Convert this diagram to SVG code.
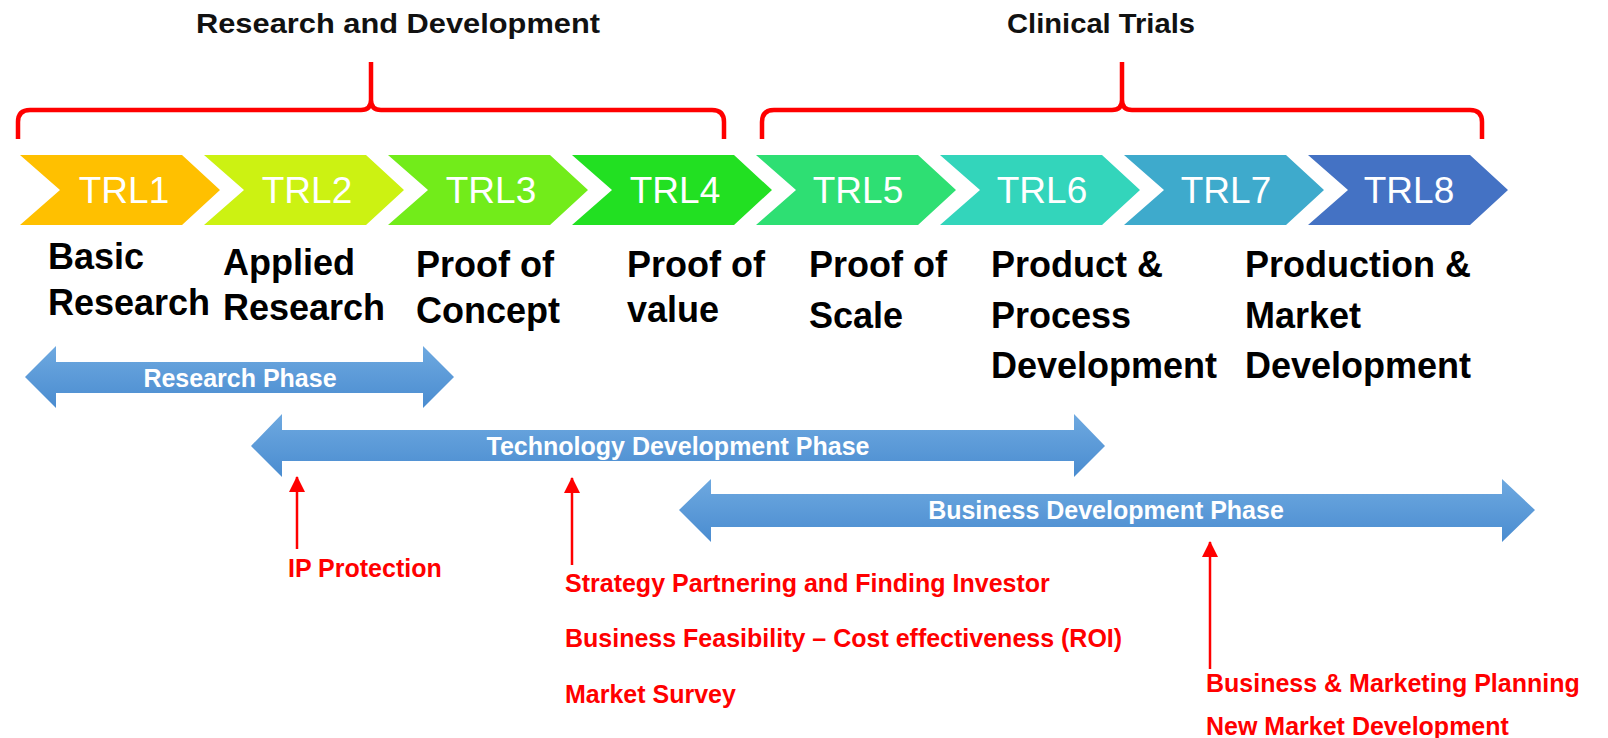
<svg xmlns="http://www.w3.org/2000/svg" width="1608" height="738" viewBox="0 0 1608 738">
<defs>
<linearGradient id="blue" x1="0" y1="0" x2="0" y2="1">
<stop offset="0" stop-color="#6EA9E0"/>
<stop offset="1" stop-color="#4A8CD0"/>
</linearGradient>
<marker id="redhead" viewBox="0 0 16 16" refX="15" refY="8" markerWidth="16" markerHeight="16" markerUnits="userSpaceOnUse" orient="auto">
<path d="M0 0 L16 8 L0 16 Z" fill="#FF0000"/>
</marker>
</defs>
<style>
.head{font-family:"Liberation Sans",Arial,sans-serif;font-weight:bold;font-size:28px;fill:#111;text-anchor:middle}
.trl{font-family:"Liberation Sans",Arial,sans-serif;font-size:37px;fill:#fff;text-anchor:middle}
.lbl{font-family:"Liberation Sans",Arial,sans-serif;font-weight:bold;font-size:36px;fill:#000}
.phase{font-family:"Liberation Sans",Arial,sans-serif;font-weight:bold;font-size:25px;fill:#fff;text-anchor:middle}
.red{font-family:"Liberation Sans",Arial,sans-serif;font-weight:bold;font-size:25px;fill:#FF0000}
.brace{fill:none;stroke:#FF0000;stroke-width:4.5}
.rline{stroke:#FF0000;stroke-width:2.5;fill:none}
.barrow{fill:url(#blue)}
</style>
<rect width="1608" height="738" fill="#fff"/>

<g id="brace-rd">
<path class="brace" d="M18 139 L18 122 Q18 110 30 110 L361 110 Q371 110 371 100 L371 62 M371 100 Q371 110 381 110 L712 110 Q724 110 724 122 L724 139"/>
<text class="head" x="398" y="33" textLength="404" lengthAdjust="spacingAndGlyphs">Research and Development</text>
</g>
<g id="brace-ct">
<path class="brace" d="M762 139 L762 122 Q762 110 774 110 L1112 110 Q1122 110 1122 100 L1122 62 M1122 100 Q1122 110 1132 110 L1470 110 Q1482 110 1482 122 L1482 139"/>
<text class="head" x="1101" y="33" textLength="188" lengthAdjust="spacingAndGlyphs">Clinical Trials</text>
</g>

<g id="trl1"><path d="M20 155 L182 155 L220 190 L182 225 L20 225 L60 190 Z" fill="#FFC000"/><text class="trl" x="124" y="203">TRL1</text></g>
<g id="trl2"><path d="M204 155 L366 155 L404 190 L366 225 L204 225 L244 190 Z" fill="#CCF212"/><text class="trl" x="307" y="203">TRL2</text></g>
<g id="trl3"><path d="M388 155 L550 155 L588 190 L550 225 L388 225 L428 190 Z" fill="#72EC1A"/><text class="trl" x="491" y="203">TRL3</text></g>
<g id="trl4"><path d="M572 155 L734 155 L772 190 L734 225 L572 225 L612 190 Z" fill="#22E022"/><text class="trl" x="675" y="203">TRL4</text></g>
<g id="trl5"><path d="M756 155 L918 155 L956 190 L918 225 L756 225 L796 190 Z" fill="#2EDF73"/><text class="trl" x="858" y="203">TRL5</text></g>
<g id="trl6"><path d="M940 155 L1102 155 L1140 190 L1102 225 L940 225 L980 190 Z" fill="#33D5BB"/><text class="trl" x="1042" y="203">TRL6</text></g>
<g id="trl7"><path d="M1124 155 L1286 155 L1324 190 L1286 225 L1124 225 L1164 190 Z" fill="#3EAACC"/><text class="trl" x="1226" y="203">TRL7</text></g>
<g id="trl8"><path d="M1308 155 L1470 155 L1508 190 L1470 225 L1308 225 L1348 190 Z" fill="#4472C4"/><text class="trl" x="1409" y="203">TRL8</text></g>

<g id="label1"><text class="lbl" x="48" y="269">Basic</text><text class="lbl" x="48" y="315">Research</text></g>
<g id="label2"><text class="lbl" x="223" y="275">Applied</text><text class="lbl" x="223" y="320">Research</text></g>
<g id="label3"><text class="lbl" x="416" y="277">Proof of</text><text class="lbl" x="416" y="323">Concept</text></g>
<g id="label4"><text class="lbl" x="627" y="277">Proof of</text><text class="lbl" x="627" y="322">value</text></g>
<g id="label5"><text class="lbl" x="809" y="277">Proof of</text><text class="lbl" x="809" y="328">Scale</text></g>
<g id="label6"><text class="lbl" x="991" y="277">Product &amp;</text><text class="lbl" x="991" y="328">Process</text><text class="lbl" x="991" y="378">Development</text></g>
<g id="label7"><text class="lbl" x="1245" y="277">Production &amp;</text><text class="lbl" x="1245" y="328">Market</text><text class="lbl" x="1245" y="378">Development</text></g>

<g id="research-phase">
<path class="barrow" d="M25 377 L56 346 L56 362 L423 362 L423 346 L454 377 L423 408 L423 393 L56 393 L56 408 Z"/>
<text class="phase" x="240" y="387">Research Phase</text>
</g>
<g id="technology-phase">
<path class="barrow" d="M251 446 L282 414 L282 430 L1074 430 L1074 414 L1105 446 L1074 477 L1074 461 L282 461 L282 477 Z"/>
<text class="phase" x="678" y="455">Technology Development Phase</text>
</g>
<g id="business-phase">
<path class="barrow" d="M679 510 L711 479 L711 494 L1502 494 L1502 479 L1535 510 L1502 542 L1502 527 L711 527 L711 542 Z"/>
<text class="phase" x="1106" y="519">Business Development Phase</text>
</g>

<g id="connectors">
<line class="rline" x1="297" y1="549" x2="297" y2="477" marker-end="url(#redhead)"/>
<line class="rline" x1="572" y1="565" x2="572" y2="478" marker-end="url(#redhead)"/>
<line class="rline" x1="1210" y1="669" x2="1210" y2="542" marker-end="url(#redhead)"/>
</g>

<g id="ip-protection"><text class="red" x="288" y="577">IP Protection</text></g>
<g id="tech-notes">
<text class="red" x="565" y="592">Strategy Partnering and Finding Investor</text>
<text class="red" x="565" y="647">Business Feasibility – Cost effectiveness (ROI)</text>
<text class="red" x="565" y="703">Market Survey</text>
</g>
<g id="business-notes">
<text class="red" x="1206" y="692">Business &amp; Marketing Planning</text>
<text class="red" x="1206" y="735">New Market Development</text>
</g>
</svg>
